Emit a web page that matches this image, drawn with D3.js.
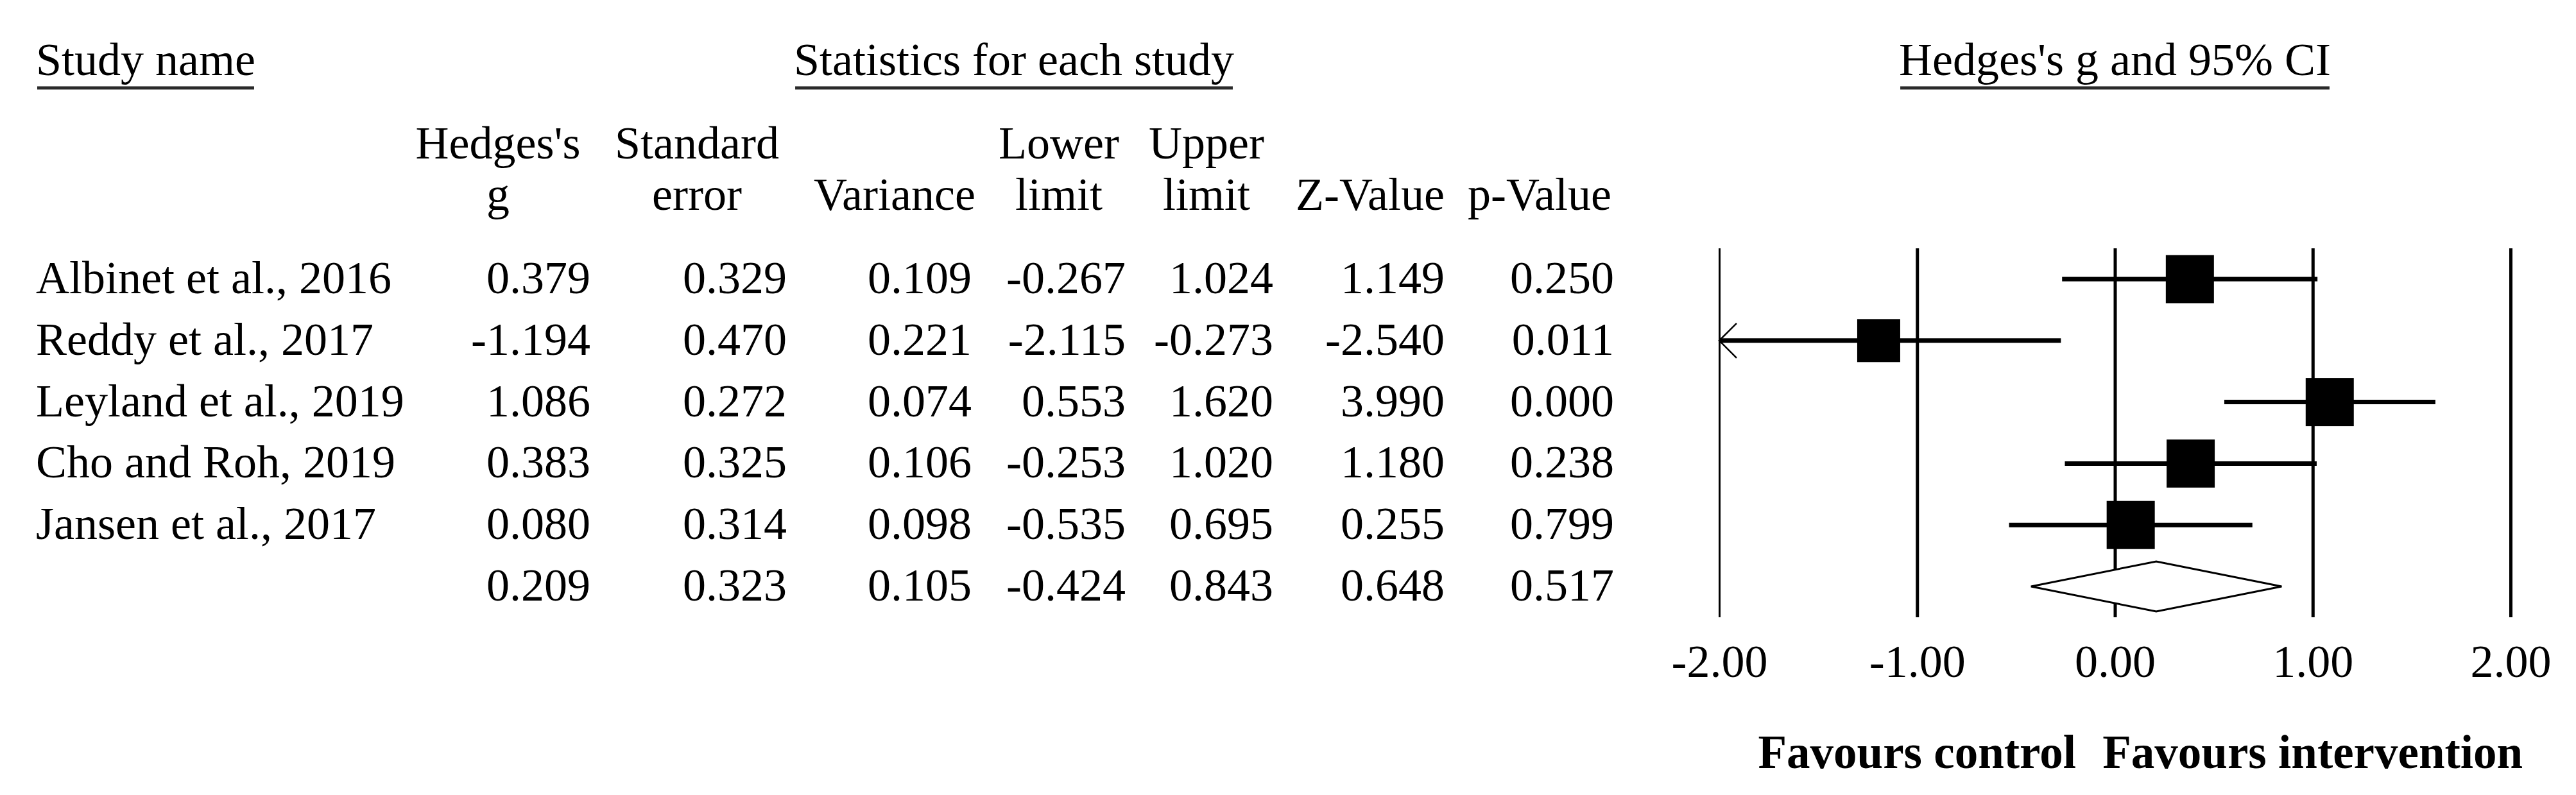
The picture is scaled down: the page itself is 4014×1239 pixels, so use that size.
<!DOCTYPE html>
<html>
<head>
<meta charset="utf-8">
<script src="https://cdn.jsdelivr.net/npm/d3@7"></script>
<style>
  html, body { margin: 0; padding: 0; background: #ffffff; }
  svg { display: block; }
  text { font-family: "Liberation Serif", "Times New Roman", serif; fill: #000; }
</style>
</head>
<body>
<svg id="chart" width="4014" height="1239"></svg>
<script>
// ---------------- DATA ----------------
const studies = ["Albinet et al., 2016", "Reddy et al., 2017", "Leyland et al., 2019", "Cho and Roh, 2019", "Jansen et al., 2017"];
const hedgesG = [0.379, -1.194, 1.086, 0.383, 0.080];
const stdError = [0.329, 0.470, 0.272, 0.325, 0.314];
const variance = [0.109, 0.221, 0.074, 0.106, 0.098];
const lowerLimit = [-0.267, -2.115, 0.553, -0.253, -0.535];
const upperLimit = [1.024, -0.273, 1.620, 1.020, 0.695];
const zValue = [1.149, -2.540, 3.990, 1.180, 0.255];
const pValue = [0.250, 0.011, 0.000, 0.238, 0.799];
// combined (summary) row: g, SE, variance, lower, upper, Z, p
const combinedStats = [0.209, 0.323, 0.105, -0.424, 0.843, 0.648, 0.517];
// relative weights
const relWeights = [20.3, 16.7, 21.8, 20.4, 20.8];
const axisTicks = [-2, -1, 0, 1, 2];
const columnKeys = ["g", "se", "var", "lower", "upper", "z", "p"];
const headerLine1 = ["Hedges's", "Standard", "", "Lower", "Upper", "", ""];
const headerLine2 = ["g", "error", "Variance", "limit", "limit", "Z-Value", "p-Value"];
const sectionTitles = ["Study name", "Statistics for each study", "Hedges's g and 95% CI"];
const favourLabels = ["Favours control", "Favours intervention"];

// ---------------- LAYOUT ----------------
const FS = 72;
const svg = d3.select("#chart");
svg.append("rect").attr("width", 4014).attr("height", 1239).attr("fill", "#fff");

const loc = d3.formatLocale({decimal: ".", thousands: ",", grouping: [3], currency: ["", ""], minus: "-"});
const f3 = loc.format(".3f");
const f2 = loc.format(".2f");

const x = d3.scaleLinear().domain([-2, 2]).range([2679, 3912]);
const rowKeys = studies.concat(["__combined__"]);
const y = d3.scalePoint().domain(rowKeys).range([435, 914]);
const colRight = d3.scaleOrdinal().domain(columnKeys).range([920, 1226, 1514, 1754, 1984, 2251, 2515]);
const colCenter = d3.scaleOrdinal().domain(columnKeys).range([776, 1086, 1394, 1650, 1880, 2135, 2399]);
const sizeScale = d3.scaleLinear().domain([16.7, 20.3]).range([67, 75]).clamp(true);

const textBaseOffset = 22;
const plotTop = 387, plotBottom = 962;

// ---------------- SECTION TITLES ----------------
const titleSpec = [
  {text: sectionTitles[0], x: 56, anchor: "start"},
  {text: sectionTitles[1], x: 1580, anchor: "middle"},
  {text: sectionTitles[2], x: x(0), anchor: "middle"}
];
const titles = svg.append("g").attr("class", "titles");
titleSpec.forEach(t => {
  const el = titles.append("text")
    .attr("x", t.x).attr("y", 117)
    .attr("text-anchor", t.anchor)
    .attr("font-size", FS)
    .text(t.text);
  const bb = el.node().getBBox();
  titles.append("line")
    .attr("x1", bb.x + 2).attr("x2", bb.x + bb.width - 2)
    .attr("y1", 137).attr("y2", 137)
    .attr("stroke", "#2a2a2a").attr("stroke-width", 5);
});

// ---------------- COLUMN HEADERS ----------------
const hdr = svg.append("g").attr("class", "headers").attr("font-size", FS);
hdr.selectAll("text.h1").data(columnKeys).join("text")
  .attr("class", "h1")
  .attr("x", d => colCenter(d)).attr("y", 247)
  .attr("text-anchor", "middle")
  .text((d, i) => headerLine1[i]);
hdr.selectAll("text.h2").data(columnKeys).join("text")
  .attr("class", "h2")
  .attr("x", d => colCenter(d)).attr("y", 327)
  .attr("text-anchor", "middle")
  .text((d, i) => headerLine2[i]);

// ---------------- TABLE ROWS ----------------
const rows = studies.map((s, i) => ({
  name: s,
  vals: [hedgesG[i], stdError[i], variance[i], lowerLimit[i], upperLimit[i], zValue[i], pValue[i]]
}));
rows.push({name: "__combined__", vals: combinedStats});

const table = svg.append("g").attr("class", "table").attr("font-size", FS);
const rowG = table.selectAll("g.row").data(rows).join("g")
  .attr("class", "row")
  .attr("transform", d => `translate(0,${y(d.name) + textBaseOffset})`);
rowG.filter(d => d.name !== "__combined__").append("text")
  .attr("x", 56).attr("y", 0)
  .text(d => d.name);
rowG.selectAll("text.num").data(d => d.vals.map((v, j) => ({v, k: columnKeys[j]}))).join("text")
  .attr("class", "num")
  .attr("x", d => colRight(d.k)).attr("y", 0)
  .attr("text-anchor", "end")
  .text(d => f3(d.v));

// ---------------- FOREST PLOT ----------------
const plot = svg.append("g").attr("class", "plot");

// vertical reference lines + tick labels via axis
const axis = d3.axisBottom(x)
  .tickValues(axisTicks)
  .tickSize(-(plotBottom - plotTop))
  .tickPadding(42)
  .tickFormat(d => f2(d));
const axG = plot.append("g")
  .attr("transform", `translate(0,${plotBottom})`)
  .call(axis);
axG.select(".domain").remove();
axG.selectAll(".tick line").attr("stroke", "#000")
  .attr("stroke-width", (d, i) => i === 0 ? 3 : 5);
axG.selectAll(".tick text")
  .attr("font-family", '"Liberation Serif", "Times New Roman", serif')
  .attr("font-size", FS).attr("fill", "#000");
axG.attr("font-family", null).attr("font-size", null);

// confidence intervals
const dom = x.domain();
const studyData = studies.map((s, i) => ({
  name: s, g: hedgesG[i], lo: lowerLimit[i], hi: upperLimit[i], w: relWeights[i]
}));
plot.selectAll("line.ci").data(studyData).join("line")
  .attr("class", "ci")
  .attr("x1", d => x(Math.max(d.lo, dom[0])))
  .attr("x2", d => x(Math.min(d.hi, dom[1])))
  .attr("y1", d => y(d.name)).attr("y2", d => y(d.name))
  .attr("stroke", "#000").attr("stroke-width", 7);

// arrows for truncated intervals
plot.selectAll("path.arrow").data(studyData.filter(d => d.lo < dom[0])).join("path")
  .attr("class", "arrow")
  .attr("d", d => {
    const x0 = x(dom[0]), y0 = y(d.name);
    return `M${x0 + 27},${y0 - 27} L${x0},${y0} L${x0 + 27},${y0 + 27}`;
  })
  .attr("fill", "none").attr("stroke", "#000").attr("stroke-width", 2.5);

// squares
plot.selectAll("rect.pt").data(studyData).join("rect")
  .attr("class", "pt")
  .attr("x", d => x(d.g) - sizeScale(d.w) / 2)
  .attr("y", d => y(d.name) - sizeScale(d.w) / 2)
  .attr("width", d => sizeScale(d.w))
  .attr("height", d => sizeScale(d.w))
  .attr("fill", "#000");

// summary diamond
const cy = y("__combined__");
const dh = 39;
plot.append("path")
  .datum({g: combinedStats[0], lo: combinedStats[3], hi: combinedStats[4]})
  .attr("d", d => `M${x(d.lo)},${cy} L${x(d.g)},${cy - dh} L${x(d.hi)},${cy} L${x(d.g)},${cy + dh} Z`)
  .attr("fill", "#fff").attr("stroke", "#000").attr("stroke-width", 3);

// favours labels
plot.selectAll("text.fav").data(favourLabels).join("text")
  .attr("class", "fav")
  .attr("x", (d, i) => x(i === 0 ? -1 : 1))
  .attr("y", 1197)
  .attr("text-anchor", "middle")
  .attr("font-size", 73)
  .attr("font-weight", "bold")
  .text(d => d);
</script>
</body>
</html>
